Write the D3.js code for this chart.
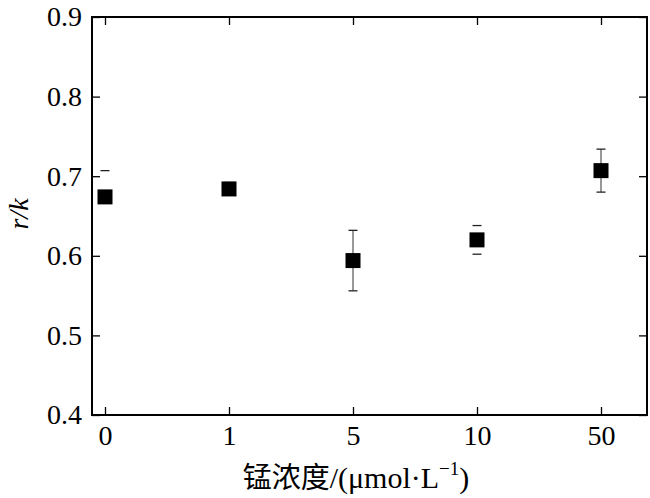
<!DOCTYPE html>
<html><head><meta charset="utf-8">
<script src="https://cdn.jsdelivr.net/npm/d3@7"></script>
<style>body{margin:0;background:#fff}svg{display:block}</style>
</head><body>
<svg id="c" width="650" height="498"></svg>
<script>
const categories = ["0","1","5","10","50"];
const values = [0.674, 0.684, 0.594, 0.620, 0.707];
const errUp = [0.033, 0.008, 0.038, 0.018, 0.027];
const errDown = [0.0, 0.008, 0.038, 0.018, 0.027];
const yTicks = [0.4, 0.5, 0.6, 0.7, 0.8, 0.9];

const W = 650, H = 498;
const m = {l: 92, r: 3, t: 17, b: 83};
const svg = d3.select("#c");
const x = d3.scalePoint().domain(categories).range([105, 601]);
const y = d3.scaleLinear().domain([0.4, 0.9]).range([H - m.b, m.t]);
const serif = "'Liberation Serif','Times New Roman',serif";

// axes
const gL = svg.append("g").attr("transform", `translate(${m.l},0)`)
  .call(d3.axisLeft(y).tickValues(yTicks).tickFormat(d3.format(".1f")).tickSizeInner(-8).tickSizeOuter(0).tickPadding(10));
const gR = svg.append("g").attr("transform", `translate(${W - m.r},0)`)
  .call(d3.axisRight(y).tickValues(yTicks).tickFormat("").tickSizeInner(-8).tickSizeOuter(0));
const gB = svg.append("g").attr("transform", `translate(0,${H - m.b})`)
  .call(d3.axisBottom(x).tickSizeInner(-8).tickSizeOuter(0).tickPadding(10));
const gT = svg.append("g").attr("transform", `translate(0,${m.t})`)
  .call(d3.axisTop(x).tickFormat("").tickSizeInner(-8).tickSizeOuter(0));
[gL, gR, gB, gT].forEach(g => {
  g.select(".domain").remove();
  g.selectAll("line").attr("stroke", "#000").attr("stroke-width", 1.3);
  g.selectAll("text").attr("font-family", serif).attr("font-size", 28).attr("fill", "#000");
});
gB.selectAll("text").attr("dy", "0.72em");
svg.append("rect").attr("x", m.l).attr("y", m.t).attr("width", W - m.r - m.l).attr("height", H - m.b - m.t)
  .attr("fill", "none").attr("stroke", "#000").attr("stroke-width", 2);

// error bars
const noStem = new Set([0, 3]);
const eb = svg.append("g");
categories.forEach((c, i) => {
  const cx = x(c), yt = y(values[i] + errUp[i]), yb = y(values[i] - errDown[i]);
  if (!noStem.has(i)) eb.append("line").attr("x1", cx).attr("x2", cx).attr("y1", yt).attr("y2", yb)
    .attr("stroke", "#444").attr("stroke-width", 1.1);
  [yt, yb].forEach(yy => eb.append("line").attr("x1", cx - 4.5).attr("x2", cx + 4.5).attr("y1", yy).attr("y2", yy)
    .attr("stroke", "#222").attr("stroke-width", 1.3));
});
// markers
svg.append("g").selectAll("rect").data(values).join("rect")
  .attr("x", (d, i) => x(categories[i]) - 7.5).attr("y", d => y(d) - 7.5)
  .attr("width", 15).attr("height", 15).attr("fill", "#000");

// titles
const xt = svg.append("text").attr("x", 356).attr("y", 488).attr("text-anchor", "middle")
  .attr("font-size", 30).attr("fill", "#000");
xt.append("tspan").attr("font-family", "'Noto Sans CJK SC',sans-serif").attr("font-size", 29).text("锰浓度");
xt.append("tspan").attr("font-family", serif).text("/(μmol·L");
xt.append("tspan").attr("font-family", serif).attr("font-size", 19).attr("dy", -13).text("−1");
xt.append("tspan").attr("font-family", serif).attr("dy", 13).text(")");

svg.append("text").attr("transform", "translate(28,214) rotate(-90)").attr("text-anchor", "middle")
  .attr("font-family", serif).attr("font-style", "italic").attr("font-size", 28).attr("fill", "#000").text("r/k");
</script>
</body></html>
